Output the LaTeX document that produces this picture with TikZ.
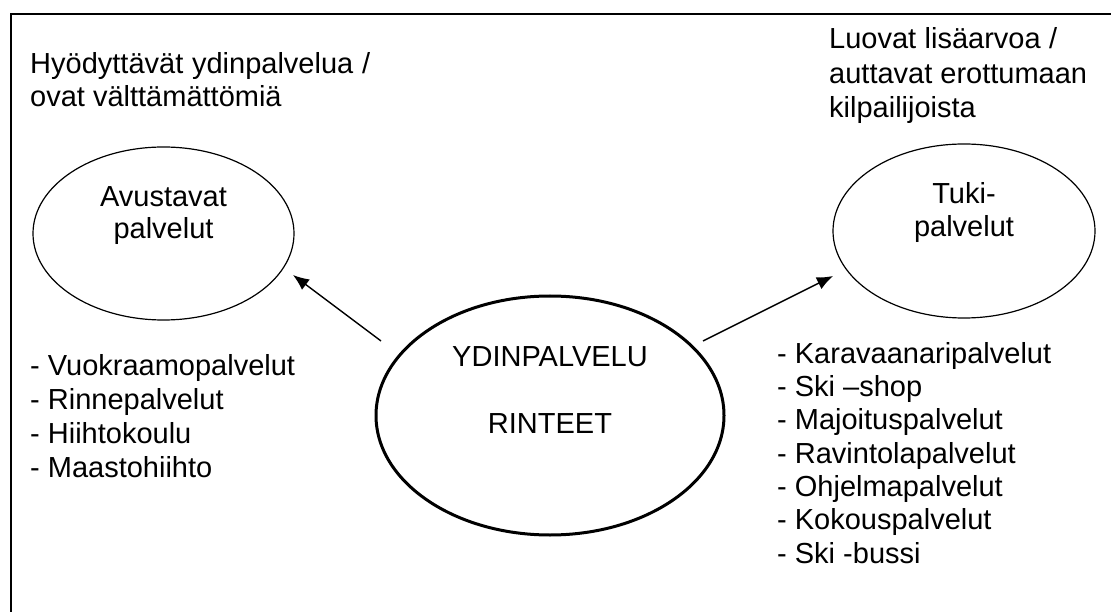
\documentclass[tikz,border=0pt]{standalone}
\usepackage{fontspec}
\setmainfont{Liberation Sans}
\usetikzlibrary{shapes.geometric,arrows.meta}
\tikzstyle{txt}=[inner sep=0pt,anchor=base west]
\tikzstyle{ctr}=[inner sep=0pt,anchor=base]
\tikzstyle{oval}=[draw,ellipse,line width=1.2pt,inner sep=0pt]
\tikzstyle{myarrow}=[line width=1.4pt,-{Latex[length=16pt,width=13pt]}]

\begin{document}
\begin{tikzpicture}[x=1pt,y=-1pt,font=\fontsize{29}{35}\selectfont]
		\useasboundingbox (0,0) rectangle (1111,612);
		\draw[line width=2pt] (11,612) -- (11,14) -- (1111,14);

		% headers
		\node[txt] (hl1) at (30,74) {\makebox[340pt][s]{Hyödyttävät ydinpalvelua /}};
		\node[txt] (hl2) at (30,107) {ovat välttämättömiä};
		\node[txt] (hr1) at (829,49) {\makebox[228pt][s]{Luovat lisäarvoa /}};
		\node[txt] (hr2) at (829,84) {auttavat erottumaan};
		\node[txt] (hr3) at (829,118) {kilpailijoista};

		% ellipses
		\node[oval,minimum width=261pt,minimum height=173pt] (aux) at (163.5,233.5) {};
		\node[ctr] (aux1) at (163.5,207) {Avustavat};
		\node[ctr] (aux2) at (163.5,239) {palvelut};

		\node[oval,minimum width=262pt,minimum height=174pt] (tuki) at (964,231) {};
		\node[ctr] (tuki1) at (964,204) {Tuki-};
		\node[ctr] (tuki2) at (964,237) {palvelut};

		\node[oval,line width=3pt,minimum width=348pt,minimum height=239pt] (core) at (550,415.5) {};
		\node[ctr] (core1) at (550,366) {YDINPALVELU};
		\node[ctr] (core2) at (550,433) {RINTEET};

		% arrows
		\coordinate (la) at (381,341);
		\coordinate (lb) at (293,275);
		\coordinate (ra) at (703,341);
		\coordinate (rb) at (833,276);
		\draw[myarrow] (la) -- (lb);
		\draw[myarrow] (ra) -- (rb);

		% lists
		\foreach \t [count=\i] in {Vuokraamopalvelut,Rinnepalvelut,Hiihtokoulu,Maastohiihto} {\node[txt] (l\i) at (30,{375+34*(\i-1)}) {- \t};}
		\foreach \t [count=\i] in {Karavaanaripalvelut,Ski –shop,Majoituspalvelut,Ravintolapalvelut,Ohjelmapalvelut,Kokouspalvelut,Ski -bussi} {\node[txt] (r\i) at (777,{363+33.35*(\i-1)}) {- \t};}
	\end{tikzpicture}
\end{document}
